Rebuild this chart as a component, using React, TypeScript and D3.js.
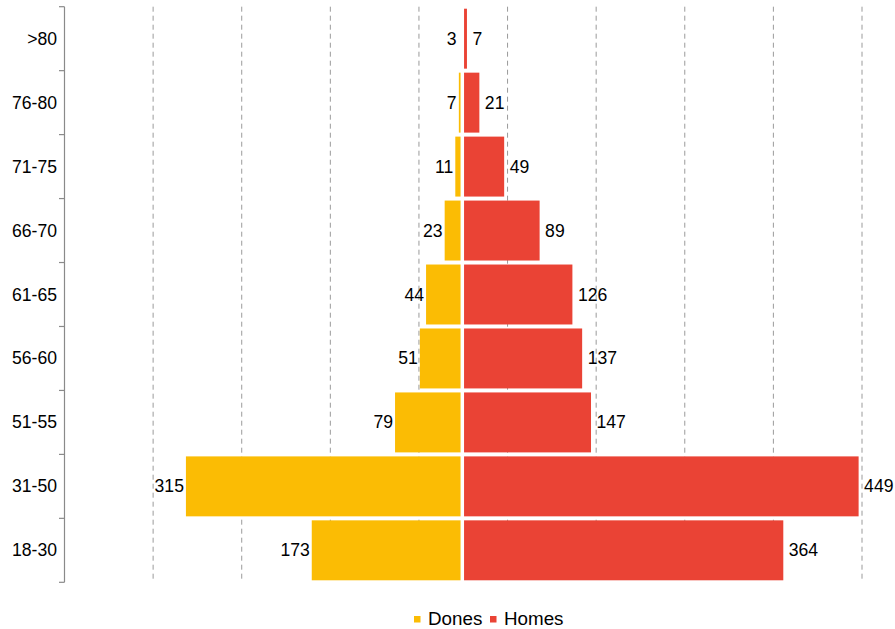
import React from "react";
import * as d3 from "d3";

const categories = [">80", "76-80", "71-75", "66-70", "61-65", "56-60", "51-55", "31-50", "18-30"];
const dones = [3, 7, 11, 23, 44, 51, 79, 315, 173];
const homes = [7, 21, 49, 89, 126, 137, 147, 449, 364];
const gridTicks = [-350, -250, -150, -50, 50, 150, 250, 350, 450];
const seriesNames = ["Dones", "Homes"];
const colors = ["#FBBC04", "#EA4335"];

const W = 895;
const H = 629;
const FONT = "'Liberation Sans', Arial, Helvetica, sans-serif";
const FS = 17.6;

export default function App() {
  const x = d3.scaleLinear().domain([-450, 450]).range([64.5, 862]);
  const y = d3.scaleBand<string>().domain(categories).range([6.7, 582.3]).padding(0);
  const bw = y.bandwidth();
  const x0 = x(0);
  const yRightEdge = x0 - 2.7;
  const rLeftEdge = x0 + 0.8;

  return (
    <svg width={W} height={H} style={{ position: "absolute", left: 0, top: 0, background: "#fff" }} fontFamily={FONT}>
      {gridTicks.map((t) => (
        <line key={t} x1={x(t)} x2={x(t)} y1={6.7} y2={582.3} stroke="#9a9a9a" strokeWidth={1} strokeDasharray="5,4" />
      ))}
      {categories.map((c, i) => {
        const top = (y(c) as number) + 2;
        const h = bw - 4;
        const yStart = x(-dones[i]) + 1.8;
        const yW = Math.max(0, yRightEdge - yStart);
        const rEnd = x(homes[i]) - 2.5;
        const rW = Math.max(0, rEnd - rLeftEdge);
        const cy = (y(c) as number) + bw / 2;
        const leftLabelX = Math.min(yStart, yRightEdge - 2) - 2;
        return (
          <g key={c}>
            <rect x={yStart} y={top} width={yW} height={h} fill={colors[0]} />
            <rect x={rLeftEdge} y={top} width={rW} height={h} fill={colors[1]} />
            <text x={leftLabelX} y={cy} textAnchor="end" dominantBaseline="central" fontSize={FS} fill="#000">
              {dones[i]}
            </text>
            <text x={rEnd + 5.5} y={cy} textAnchor="start" dominantBaseline="central" fontSize={FS} fill="#000">
              {homes[i]}
            </text>
          </g>
        );
      })}
      <line x1={64.5} x2={64.5} y1={6.7} y2={582.3} stroke="#8a8a8a" strokeWidth={1.2} />
      {categories.map((c) => (
        <line key={"t" + c} x1={59} x2={64.5} y1={y(c) as number} y2={y(c) as number} stroke="#8a8a8a" strokeWidth={1.2} />
      ))}
      <line x1={59} x2={64.5} y1={582.3} y2={582.3} stroke="#8a8a8a" strokeWidth={1.2} />
      {categories.map((c) => (
        <text key={"l" + c} x={57} y={(y(c) as number) + bw / 2} textAnchor="end" dominantBaseline="central" fontSize={FS} fill="#000">
          {c}
        </text>
      ))}
      <g>
        <rect x={414} y={616} width={6.5} height={6.5} fill={colors[0]} />
        <text x={428} y={625} fontSize={18.8} fill="#000">{seriesNames[0]}</text>
        <rect x={490} y={616} width={6.5} height={6.5} fill={colors[1]} />
        <text x={504} y={625} fontSize={18.8} fill="#000">{seriesNames[1]}</text>
      </g>
    </svg>
  );
}
